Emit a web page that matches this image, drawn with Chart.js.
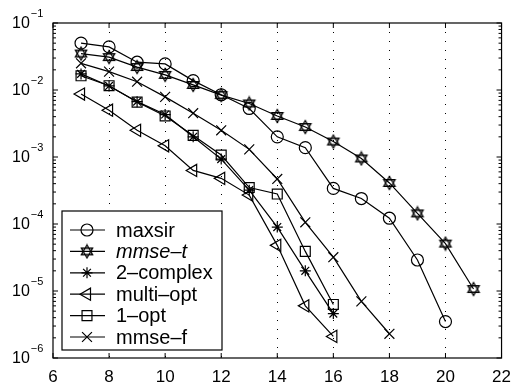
<!DOCTYPE html>
<html>
<head>
<meta charset="utf-8">
<script src="https://cdn.jsdelivr.net/npm/chart.js@4.4.1/dist/chart.umd.min.js"></script>
<style>
  html, body { margin: 0; padding: 0; background: #fff; }
  #contenedor { width: 520px; height: 383px; }
</style>
</head>
<body>
<div id="contenedor"><canvas id="grafico"></canvas></div>
<script>
// DATOS
const snr = [7, 8, 9, 10, 11, 12, 13, 14, 15, 16, 17, 18, 19, 20, 21];
const maxsir     = [0.050, 0.044, 0.026, 0.0245, 0.0138, 0.0085, 0.0053, 0.0020, 0.00138, 0.00034, 0.00024, 0.000122, 2.9e-5, 3.5e-6];
const mmseT      = [0.035, 0.031, 0.022, 0.0168, 0.0119, 0.0084, 0.0063, 0.0041, 0.0028, 0.0017, 0.00095, 0.00041, 0.000144, 5.1e-5, 1.07e-5];
const twoComplex = [0.0174, 0.0115, 0.0067, 0.0043, 0.0020, 0.00093, 0.00032, 9.0e-5, 2.0e-5, 4.6e-6];
const multiOpt   = [0.0087, 0.0050, 0.0025, 0.00147, 0.00063, 0.00048, 0.00027, 4.8e-5, 6.0e-6, 2.1e-6];
const oneOpt     = [0.0163, 0.0116, 0.0066, 0.0041, 0.0021, 0.00107, 0.00035, 0.00028, 3.9e-5, 6.3e-6];
const mmseF      = [0.025, 0.0188, 0.0133, 0.0079, 0.0045, 0.0025, 0.0013, 0.00047, 0.000106, 3.2e-5, 7.0e-6, 2.3e-6];

const seriesNames = ['maxsir', 'mmse-t', '2-complex', 'multi-opt', '1-opt', 'mmse-f'];
const xTicks = [6, 8, 10, 12, 14, 16, 18, 20, 22];
const yDecades = [-6, -5, -4, -3, -2, -1];

// marcador hexagrama (estrella de David) para mmse-t
function hexagrama() {
  const c = document.createElement('canvas');
  c.width = 16; c.height = 16;
  const g = c.getContext('2d');
  g.strokeStyle = '#000';
  g.lineWidth = 1.3;
  const r = 6.5;
  [0, Math.PI].forEach(off => {
    g.beginPath();
    for (let k = 0; k < 3; k++) {
      const a = off + k * 2 * Math.PI / 3;
      const px = 8 + Math.sin(a) * r, py = 8 - Math.cos(a) * r;
      k === 0 ? g.moveTo(px, py) : g.lineTo(px, py);
    }
    g.closePath();
    g.stroke();
  });
  return c;
}

const toPoints = vals => vals.map((v, i) => ({ x: snr[i], y: v }));

const estiloBase = {
  borderColor: '#000',
  backgroundColor: 'rgba(0,0,0,0)',
  pointBorderColor: '#000',
  pointBackgroundColor: 'rgba(0,0,0,0)',
  borderWidth: 1.2,
  pointBorderWidth: 1.2,
  tension: 0
};

const datasets = [
  { label: seriesNames[0], data: toPoints(maxsir), pointStyle: 'circle', pointRadius: 6 },
  { label: seriesNames[1], data: toPoints(mmseT), pointStyle: hexagrama(), pointRadius: 7 },
  { label: seriesNames[2], data: toPoints(twoComplex), pointStyle: 'star', pointRadius: 5.5 },
  { label: seriesNames[3], data: toPoints(multiOpt), pointStyle: 'triangle', pointRotation: -90, pointRadius: 7 },
  { label: seriesNames[4], data: toPoints(oneOpt), pointStyle: 'rect', pointRadius: 7 },
  { label: seriesNames[5], data: toPoints(mmseF), pointStyle: 'crossRot', pointRadius: 7 }
].map(d => Object.assign({}, estiloBase, d));

// PLUGIN: caja, marcas hacia dentro, etiquetas 10^n y leyenda interior
const estiloMatlab = {
  id: 'estiloMatlab',
  afterDatasetsDraw(chart) {
    const ctx = chart.ctx;
    const a = chart.chartArea;
    const xs = chart.scales.x, ys = chart.scales.y;
    ctx.save();
    ctx.strokeStyle = '#000';
    ctx.lineWidth = 1.2;
    ctx.strokeRect(a.left, a.top, a.right - a.left, a.bottom - a.top);

    // marcas eje x (arriba y abajo)
    ctx.lineWidth = 1;
    ctx.beginPath();
    xTicks.forEach(t => {
      const px = xs.getPixelForValue(t);
      ctx.moveTo(px, a.bottom); ctx.lineTo(px, a.bottom - 5);
      ctx.moveTo(px, a.top); ctx.lineTo(px, a.top + 5);
    });
    // marcas eje y (mayores y menores, izquierda y derecha)
    yDecades.forEach(e => {
      for (let m = 1; m <= 9; m++) {
        const v = m * Math.pow(10, e);
        if (v > Math.pow(10, -1) + 1e-12) continue;
        const py = ys.getPixelForValue(v);
        const len = m === 1 ? 5 : 3;
        ctx.moveTo(a.left, py); ctx.lineTo(a.left + len, py);
        ctx.moveTo(a.right, py); ctx.lineTo(a.right - len, py);
      }
    });
    ctx.stroke();

    // etiquetas 10^n
    ctx.fillStyle = '#000';
    ctx.textBaseline = 'middle';
    ctx.textAlign = 'left';
    yDecades.forEach(e => {
      const py = ys.getPixelForValue(Math.pow(10, e));
      ctx.font = '16px "Liberation Sans", Arial, sans-serif';
      ctx.fillText('10', 12, py + 1);
      const w = ctx.measureText('10').width;
      ctx.font = '11px "Liberation Sans", Arial, sans-serif';
      ctx.fillText('\u2212' + Math.abs(e), 12 + w + 1, py - 9);
    });

    // leyenda
    const bx = a.left + 9, by = a.bottom - 147, bw = 160, bh = 139;
    ctx.fillStyle = '#fff';
    ctx.fillRect(bx, by, bw, bh);
    ctx.lineWidth = 1.2;
    ctx.strokeRect(bx, by, bw, bh);
    chart.data.datasets.forEach((ds, i) => {
      const ry = by + 19 + i * 21.4;
      ctx.strokeStyle = '#000';
      ctx.lineWidth = 1.2;
      ctx.beginPath();
      ctx.moveTo(bx + 8, ry); ctx.lineTo(bx + 43, ry);
      ctx.stroke();
      if (Chart.helpers && Chart.helpers.drawPoint) {
        ctx.fillStyle = 'rgba(0,0,0,0)';
        Chart.helpers.drawPoint(ctx, {
          pointStyle: ds.pointStyle,
          rotation: ds.pointRotation || 0,
          radius: ds.pointRadius,
          borderWidth: 1.2
        }, bx + 25, ry);
      }
      ctx.fillStyle = '#000';
      ctx.font = (ds.label === 'mmse-t' ? 'italic ' : '') + '20px "Liberation Sans", Arial, sans-serif';
      ctx.textBaseline = 'middle';
      ctx.fillText(ds.label.replace('-', '\u2013'), bx + 54, ry + 1);
    });
    ctx.restore();
  }
};

const grafico = new Chart(document.getElementById('grafico'), {
  type: 'line',
  data: { datasets },
  options: {
    responsive: true,
    maintainAspectRatio: false,
    animation: false,
    layout: { padding: { top: 23, right: 14, left: 0, bottom: 0 } },
    plugins: { legend: { display: false }, tooltip: { enabled: false } },
    scales: {
      x: {
        type: 'linear',
        min: 6,
        max: 22,
        afterFit: s => { s.height = 25; },
        afterBuildTicks: s => { s.ticks = xTicks.map(v => ({ value: v })); },
        ticks: {
          color: '#000',
          padding: 9,
          maxRotation: 0,
          font: { family: '"Liberation Sans", Arial, sans-serif', size: 17 }
        },
        grid: {
          drawTicks: false,
          color: ctx => (ctx.tick && (ctx.tick.value === 6 || ctx.tick.value === 22)) ? 'rgba(0,0,0,0)' : '#000',
          lineWidth: 1
        },
        border: { display: false, dash: [1, 8] }
      },
      y: {
        type: 'logarithmic',
        min: 1e-6,
        max: 1e-1,
        afterFit: s => { s.width = 53; },
        ticks: { display: false },
        grid: { display: false, drawTicks: false },
        border: { display: false }
      }
    }
  },
  plugins: [estiloMatlab]
});
</script>
</body>
</html>
